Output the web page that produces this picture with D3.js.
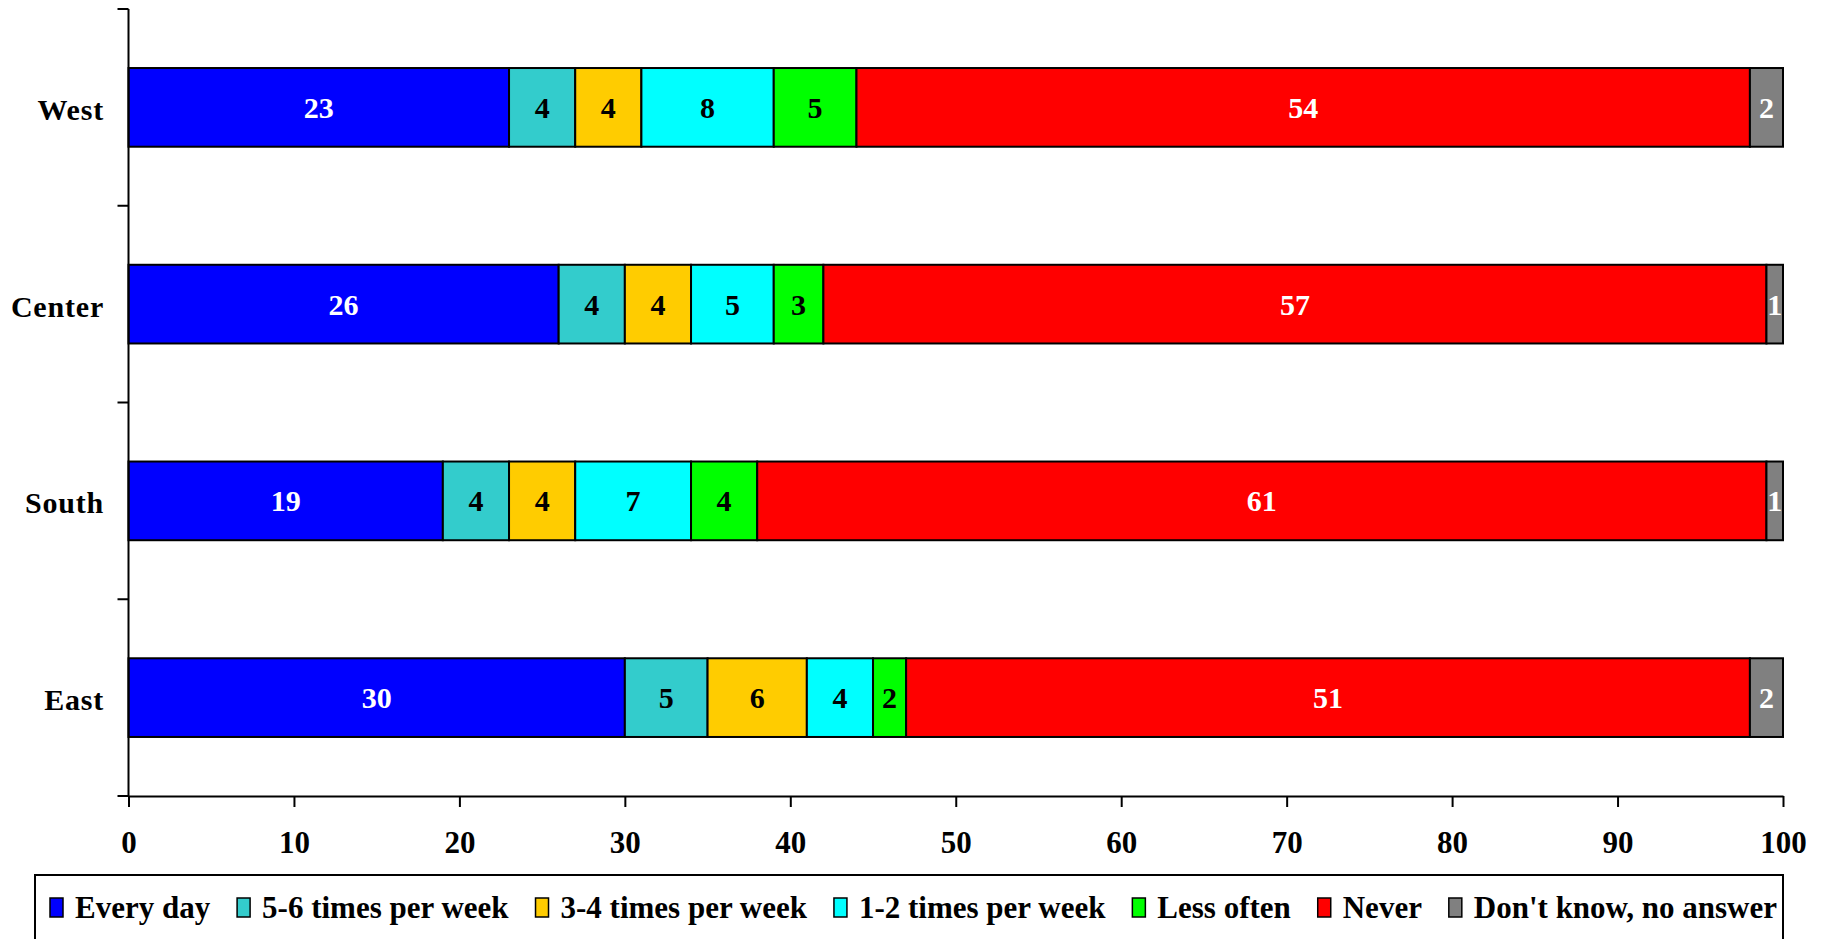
<!DOCTYPE html>
<html>
<head>
<meta charset="utf-8">
<script src="https://cdn.jsdelivr.net/npm/d3@7/dist/d3.min.js"></script>
<style>
  body { margin: 0; background: #fff; }
  svg { display: block; }
  text { font-family: "Liberation Serif", "Times New Roman", serif; font-weight: bold; }
</style>
</head>
<body>
<svg id="chart" width="1822" height="939"></svg>
<script>
const categories = ["West", "Center", "South", "East"];
const seriesNames = ["Every day", "5-6 times per week", "3-4 times per week", "1-2 times per week", "Less often", "Never", "Don't know, no answer"];
const everyDay   = [23, 26, 19, 30];
const fiveSix    = [4, 4, 4, 5];
const threeFour  = [4, 4, 4, 6];
const oneTwo     = [8, 5, 7, 4];
const lessOften  = [5, 3, 4, 2];
const never      = [54, 57, 61, 51];
const dontKnow   = [2, 1, 1, 2];
const xTicks = [0, 10, 20, 30, 40, 50, 60, 70, 80, 90, 100];

const colors = ["#0000FF", "#33CCCC", "#FFCC00", "#00FFFF", "#00FF00", "#FF0000", "#808080"];
const labelColors = ["#fff", "#000", "#000", "#000", "#000", "#fff", "#fff"];
const seriesValues = [everyDay, fiveSix, threeFour, oneTwo, lessOften, never, dontKnow];

const rows = categories.map((c, i) => {
  const r = { category: c };
  seriesNames.forEach((s, j) => r[s] = seriesValues[j][i]);
  return r;
});
const stacked = d3.stack().keys(seriesNames)(rows);

const svg = d3.select("#chart");
const x = d3.scaleLinear().domain([0, 100]).range([128.5, 1783]);
const y = d3.scaleBand().domain(categories).range([9, 796]).paddingInner(0.6).paddingOuter(0.3);

// bars
stacked.forEach((layer, j) => {
  const g = svg.append("g");
  g.selectAll("rect").data(layer).join("rect")
    .attr("x", d => x(d[0]))
    .attr("y", d => y(d.data.category))
    .attr("width", d => x(d[1]) - x(d[0]))
    .attr("height", y.bandwidth())
    .attr("fill", colors[j])
    .attr("stroke", "#000")
    .attr("stroke-width", 2);
  g.selectAll("text").data(layer).join("text")
    .attr("x", d => (x(d[0]) + x(d[1])) / 2)
    .attr("y", d => y(d.data.category) + y.bandwidth() / 2)
    .attr("dy", "0.35em")
    .attr("text-anchor", "middle")
    .attr("font-size", 30)
    .attr("fill", labelColors[j])
    .text(d => d[1] - d[0]);
});

// x axis
const xAxis = svg.append("g")
  .attr("transform", "translate(0,796)")
  .call(d3.axisBottom(x).tickValues(xTicks).tickSize(11).tickSizeOuter(0).tickPadding(24));
xAxis.selectAll("path, line").attr("stroke", "#000").attr("stroke-width", 2);
xAxis.selectAll("text").attr("font-size", 31).attr("fill", "#000")
  .attr("font-family", "Liberation Serif, serif").attr("font-weight", "bold");

// y axis
const yAxis = svg.append("g");
yAxis.append("line").attr("x1", x(0)).attr("x2", x(0)).attr("y1", y.range()[0]).attr("y2", y.range()[1])
  .attr("stroke", "#000").attr("stroke-width", 2);
d3.range(categories.length + 1).forEach(i => {
  const yy = y.range()[0] + i * y.step();
  yAxis.append("line").attr("x1", x(0) - 11).attr("x2", x(0)).attr("y1", yy).attr("y2", yy)
    .attr("stroke", "#000").attr("stroke-width", 2);
});
yAxis.selectAll("text.cat").data(categories).join("text")
  .attr("class", "cat")
  .attr("x", 104)
  .attr("y", d => y(d) + y.bandwidth() / 2)
  .attr("dy", "0.42em")
  .attr("text-anchor", "end")
  .attr("font-size", 30)
  .attr("letter-spacing", 0.8)
  .attr("fill", "#000")
  .text(d => d);

// legend
const legend = svg.append("g");
legend.append("rect").attr("x", 35).attr("y", 875).attr("width", 1748).attr("height", 120)
  .attr("fill", "#fff").attr("stroke", "#000").attr("stroke-width", 2);
const items = legend.selectAll("g.item").data(seriesNames).join("g").attr("class", "item");
items.append("rect").attr("width", 13).attr("height", 19).attr("y", 898)
  .attr("fill", (d, i) => colors[i]).attr("stroke", "#000").attr("stroke-width", 1.5);
items.append("text").attr("y", 918).attr("font-size", 31).attr("fill", "#000").text(d => d);
// fit legend between 50 and 1777
const startX = 50, endX = 1777, swGap = 25;
const widths = [];
items.each(function() { widths.push(d3.select(this).select("text").node().getComputedTextLength()); });
const used = d3.sum(widths) + swGap * widths.length;
const gap = (endX - startX - used) / (widths.length - 1);
let cx = startX;
items.each(function(d, i) {
  const g = d3.select(this);
  g.select("rect").attr("x", cx);
  g.select("text").attr("x", cx + swGap);
  cx = cx + swGap + widths[i] + gap;
});
</script>
</body>
</html>
